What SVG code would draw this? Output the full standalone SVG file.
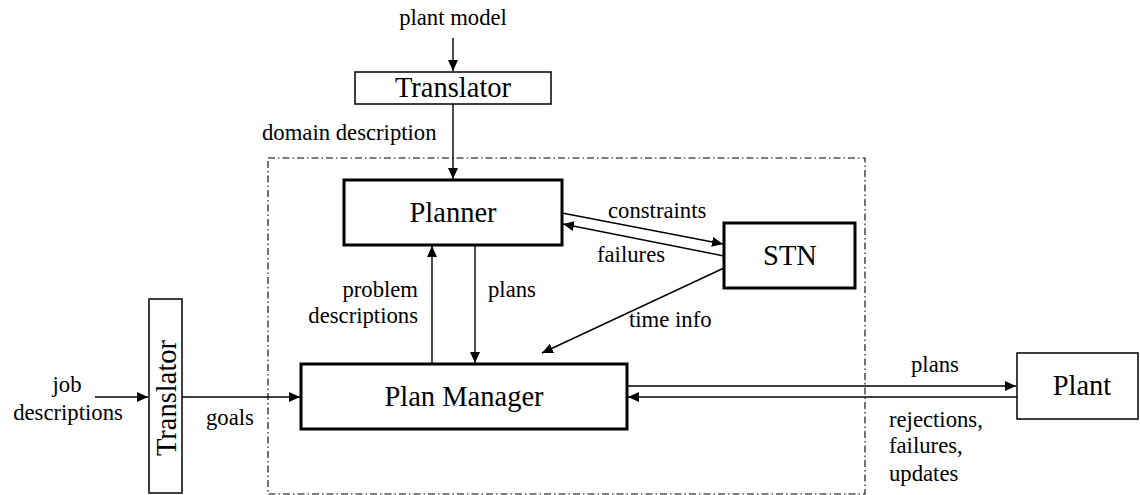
<svg xmlns="http://www.w3.org/2000/svg" width="1140" height="495" viewBox="0 0 1140 495">
<style>
text{font-family:'Liberation Serif','Times New Roman',Times,'DejaVu Serif',serif;fill:#000}
.node{font-size:28.5px;text-anchor:middle}
.lbl{font-size:22.7px}
.thick{fill:#fff;stroke:#000;stroke-width:3}
.thin{fill:#fff;stroke:#000;stroke-width:1.5}
.c{stroke:#000;stroke-width:1.4;fill:none;marker-end:url(#ah)}
</style>
<defs>
<marker id="ah" markerUnits="userSpaceOnUse" markerWidth="12" markerHeight="10" refX="11" refY="5" orient="auto">
<path d="M0,0 L11,5 L0,10 Z" fill="#000"/>
</marker>
</defs>
<rect id="boundary" x="268" y="158" width="597" height="336" fill="none" stroke="#000" stroke-width="1.1" stroke-dasharray="7,3,1.5,3"/>
<g id="connectors">
<line class="c" x1="453" y1="38" x2="453" y2="71"/>
<line class="c" x1="453" y1="104" x2="453" y2="179"/>
<line class="c" x1="432" y1="364" x2="432" y2="246"/>
<line class="c" x1="475" y1="245" x2="475" y2="363"/>
<line class="c" x1="562" y1="213" x2="723" y2="244"/>
<line class="c" x1="724" y1="256" x2="563" y2="224"/>
<line class="c" x1="724" y1="268" x2="542" y2="353"/>
<line class="c" x1="95" y1="397" x2="148" y2="397"/>
<line class="c" x1="182" y1="397" x2="300" y2="397"/>
<line class="c" x1="627" y1="386" x2="1016" y2="386"/>
<line class="c" x1="1017" y1="397" x2="628" y2="397"/>
</g>
<g id="labels">
<text class="lbl" x="453" y="25" text-anchor="middle">plant model</text>
<text class="lbl" x="262" y="140">domain description</text>
<text class="lbl" x="608" y="218">constraints</text>
<text class="lbl" x="597" y="262">failures</text>
<text class="lbl" x="418" y="297" text-anchor="end">problem</text>
<text class="lbl" x="418" y="323" text-anchor="end">descriptions</text>
<text class="lbl" x="488" y="297">plans</text>
<text class="lbl" x="629" y="327">time info</text>
<text class="lbl" x="67" y="392" text-anchor="middle">job</text>
<text class="lbl" x="68" y="420" text-anchor="middle">descriptions</text>
<text class="lbl" x="206" y="425">goals</text>
<text class="lbl" x="911" y="372">plans</text>
<text class="lbl" x="889" y="427">rejections,</text>
<text class="lbl" x="889" y="453">failures,</text>
<text class="lbl" x="889" y="481">updates</text>
</g>
<g id="translator-top">
<rect class="thin" x="355" y="72" width="196" height="32"/>
<text class="node" x="453" y="97">Translator</text>
</g>
<g id="planner">
<rect class="thick" x="344" y="180" width="218" height="65"/>
<text class="node" x="453" y="222">Planner</text>
</g>
<g id="stn">
<rect class="thick" x="724" y="223" width="131" height="65"/>
<text class="node" x="790" y="265">STN</text>
</g>
<g id="translator-left">
<rect class="thin" x="149" y="299" width="33" height="194"/>
<text class="node" transform="translate(176,398) rotate(-90)">Translator</text>
</g>
<g id="plan-manager">
<rect class="thick" x="301" y="364" width="326" height="65"/>
<text class="node" x="464" y="406">Plan Manager</text>
</g>
<g id="plant">
<rect class="thin" x="1017" y="353" width="121" height="66"/>
<text class="node" x="1082" y="395">Plant</text>
</g>
</svg>
